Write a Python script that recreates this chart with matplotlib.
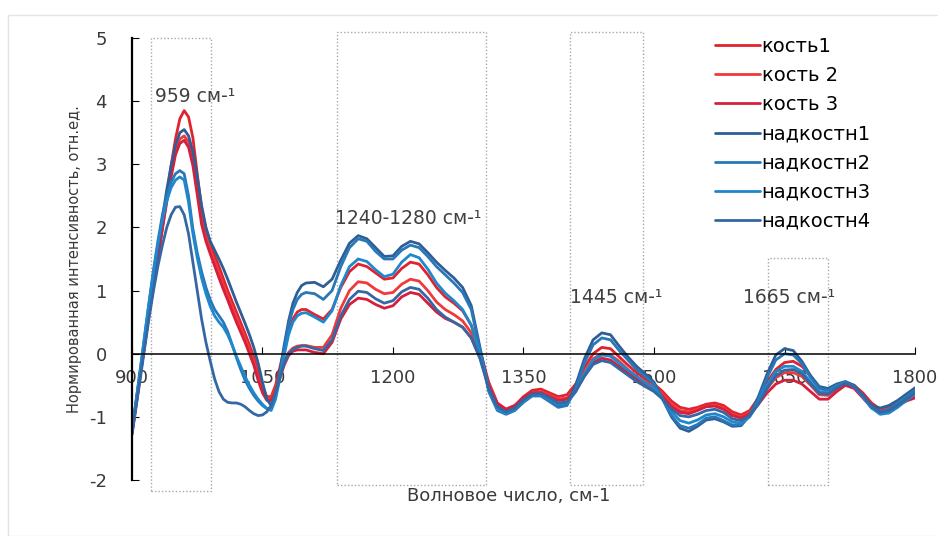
import matplotlib

matplotlib.use("Agg")
import matplotlib.pyplot as plt  # noqa: E402
from matplotlib.patches import Rectangle  # noqa: E402

plt.rcParams["font.family"] = ["DejaVu Sans"]
plt.rcParams["axes.unicode_minus"] = False

# wavenumber grid, cm-1: 5 cm-1 steps over the sharp 959 band, 10 cm-1 after
wavenumbers = list(range(900, 1100, 5)) + list(range(1100, 1801, 10))

# normalised intensities
kost1 = [-1.25, -0.78, -0.3, 0.18, 0.65, 1.08, 1.5, 2.0, 2.5, 2.98,
         3.4, 3.72, 3.85, 3.75, 3.42, 2.85, 2.3, 1.98, 1.75, 1.56,
         1.38, 1.19, 1.0, 0.83, 0.66, 0.49, 0.32, 0.14, -0.05, -0.3,
         -0.52, -0.68, -0.68, -0.5, -0.22, 0.08, 0.35, 0.55, 0.66, 0.7,
         0.7, 0.62, 0.55, 0.7, 1.05, 1.3, 1.42, 1.38, 1.28, 1.18,
         1.2, 1.35, 1.45, 1.42, 1.25, 1.05, 0.9, 0.8, 0.68, 0.45,
         0.05, -0.45, -0.78, -0.88, -0.82, -0.68, -0.58, -0.56, -0.62, -0.68,
         -0.65, -0.48, -0.22, 0.0, 0.1, 0.08, -0.05, -0.18, -0.3, -0.4,
         -0.48, -0.6, -0.75, -0.85, -0.88, -0.85, -0.8, -0.78, -0.82, -0.92,
         -0.97, -0.9, -0.7, -0.45, -0.25, -0.14, -0.12, -0.2, -0.35, -0.55,
         -0.58, -0.52, -0.47, -0.5, -0.62, -0.78, -0.88, -0.85, -0.78, -0.7,
         -0.62]
kost2 = [-1.25, -0.76, -0.28, 0.2, 0.68, 1.12, 1.55, 2.02, 2.45, 2.86,
         3.2, 3.4, 3.45, 3.35, 3.08, 2.62, 2.15, 1.87, 1.65, 1.46,
         1.28, 1.1, 0.92, 0.75, 0.58, 0.42, 0.25, 0.07, -0.12, -0.37,
         -0.58, -0.7, -0.7, -0.55, -0.33, -0.13, 0.02, 0.09, 0.12, 0.13,
         0.13, 0.1, 0.1, 0.3, 0.72, 1.0, 1.14, 1.12, 1.02, 0.95,
         0.97, 1.1, 1.18, 1.15, 1.0, 0.82, 0.7, 0.62, 0.52, 0.33,
         -0.02, -0.48, -0.8, -0.9, -0.85, -0.72, -0.62, -0.6, -0.66, -0.72,
         -0.7, -0.55, -0.3, -0.08, 0.0, -0.02, -0.12, -0.25, -0.36, -0.45,
         -0.52, -0.64, -0.8, -0.9, -0.92, -0.88, -0.83, -0.82, -0.86, -0.96,
         -1.0, -0.93, -0.76, -0.55, -0.38, -0.3, -0.3, -0.36, -0.5, -0.65,
         -0.66, -0.56, -0.48, -0.52, -0.66, -0.82, -0.9, -0.87, -0.8, -0.72,
         -0.66]
kost3 = [-1.28, -0.79, -0.3, 0.18, 0.66, 1.1, 1.55, 1.98, 2.4, 2.8,
         3.15, 3.33, 3.38, 3.27, 2.98, 2.52, 2.05, 1.78, 1.58, 1.39,
         1.2, 1.02, 0.85, 0.67, 0.5, 0.34, 0.18, 0.0, -0.18, -0.42,
         -0.62, -0.74, -0.74, -0.6, -0.38, -0.18, -0.03, 0.04, 0.06, 0.06,
         0.06, 0.02, 0.0, 0.18, 0.55, 0.78, 0.88, 0.86, 0.78, 0.72,
         0.76, 0.9, 0.97, 0.94, 0.8, 0.66, 0.56, 0.5, 0.42, 0.25,
         -0.06, -0.5, -0.8, -0.88, -0.82, -0.7, -0.62, -0.62, -0.68, -0.74,
         -0.72, -0.58, -0.35, -0.14, -0.07, -0.1, -0.2, -0.3, -0.4, -0.48,
         -0.56, -0.68, -0.84, -0.93, -0.95, -0.9, -0.84, -0.83, -0.88, -0.98,
         -1.02, -0.95, -0.8, -0.62, -0.48, -0.42, -0.42, -0.48, -0.6, -0.72,
         -0.72, -0.6, -0.5, -0.55, -0.7, -0.85, -0.92, -0.9, -0.82, -0.75,
         -0.7]
nadk1 = [-1.22, -0.73, -0.25, 0.25, 0.75, 1.22, 1.68, 2.15, 2.6, 2.98,
         3.3, 3.5, 3.55, 3.45, 3.2, 2.8, 2.35, 2.0, 1.78, 1.64,
         1.5, 1.35, 1.18, 1.0, 0.82, 0.65, 0.48, 0.3, 0.1, -0.15,
         -0.45, -0.72, -0.82, -0.65, -0.28, 0.14, 0.52, 0.8, 0.97, 1.08,
         1.12, 1.13, 1.06, 1.18, 1.48, 1.75, 1.87, 1.82, 1.68, 1.54,
         1.55, 1.7, 1.78, 1.74, 1.6, 1.45, 1.32, 1.2, 1.05, 0.76,
         0.1, -0.55, -0.88, -0.95, -0.88, -0.74, -0.64, -0.64, -0.74, -0.84,
         -0.8, -0.5, -0.08, 0.22, 0.33, 0.3, 0.12, -0.05, -0.2, -0.32,
         -0.45, -0.72, -1.0, -1.18, -1.23, -1.15, -1.05, -1.03, -1.08, -1.15,
         -1.14, -0.98, -0.68, -0.32, -0.02, 0.08, 0.05, -0.12, -0.35, -0.52,
         -0.55, -0.48, -0.44, -0.5, -0.66, -0.82, -0.86, -0.82, -0.74, -0.64,
         -0.54]
nadk2 = [-1.25, -0.72, -0.2, 0.33, 0.85, 1.35, 1.8, 2.2, 2.5, 2.72,
         2.85, 2.9, 2.85, 2.5, 1.98, 1.6, 1.3, 1.05, 0.85, 0.7,
         0.6, 0.5, 0.35, 0.15, -0.06, -0.25, -0.42, -0.55, -0.66, -0.75,
         -0.82, -0.87, -0.86, -0.68, -0.32, 0.08, 0.45, 0.7, 0.86, 0.94,
         0.97, 0.95, 0.86, 1.0, 1.38, 1.68, 1.82, 1.78, 1.62, 1.5,
         1.5, 1.64, 1.72, 1.68, 1.54, 1.38, 1.25, 1.12, 0.97, 0.7,
         0.05, -0.6, -0.9, -0.96, -0.9, -0.77, -0.67, -0.67, -0.76, -0.85,
         -0.82, -0.55, -0.15, 0.14, 0.25, 0.22, 0.05, -0.1, -0.25, -0.36,
         -0.48, -0.72, -0.98, -1.14, -1.18, -1.12, -1.02, -1.0, -1.06, -1.13,
         -1.12, -0.98, -0.72, -0.38, -0.1, 0.0, -0.02, -0.16, -0.38, -0.55,
         -0.58, -0.5, -0.45, -0.52, -0.68, -0.86, -0.92, -0.88, -0.78, -0.68,
         -0.58]
nadk3 = [-1.25, -0.72, -0.2, 0.33, 0.85, 1.32, 1.75, 2.12, 2.42, 2.63,
         2.75, 2.8, 2.75, 2.4, 1.9, 1.52, 1.2, 0.95, 0.75, 0.6,
         0.5, 0.42, 0.3, 0.14, -0.04, -0.2, -0.36, -0.5, -0.62, -0.72,
         -0.8, -0.87, -0.9, -0.72, -0.4, -0.02, 0.3, 0.5, 0.6, 0.64,
         0.65, 0.58, 0.5, 0.68, 1.08, 1.38, 1.5, 1.46, 1.33, 1.22,
         1.26, 1.45, 1.57, 1.52, 1.34, 1.12, 0.96, 0.84, 0.7, 0.45,
         0.0, -0.55, -0.88, -0.94, -0.88, -0.75, -0.65, -0.65, -0.72, -0.8,
         -0.78, -0.6, -0.32, -0.1, -0.02, -0.04, -0.15, -0.26, -0.36, -0.46,
         -0.55, -0.72, -0.92, -1.06, -1.1, -1.05, -0.97, -0.95, -1.0, -1.08,
         -1.1, -1.0, -0.78, -0.5, -0.28, -0.2, -0.2, -0.28, -0.45, -0.6,
         -0.62, -0.52, -0.46, -0.52, -0.68, -0.86, -0.96, -0.94, -0.85, -0.74,
         -0.64]
nadk4 = [-1.28, -0.82, -0.35, 0.13, 0.6, 1.02, 1.4, 1.72, 2.0, 2.2,
         2.32, 2.33, 2.2, 1.9, 1.45, 1.0, 0.55, 0.18, -0.12, -0.4,
         -0.6, -0.72, -0.77, -0.78, -0.78, -0.8, -0.84, -0.9, -0.95, -0.98,
         -0.97, -0.92, -0.82, -0.62, -0.38, -0.15, 0.0, 0.07, 0.1, 0.12,
         0.12, 0.08, 0.05, 0.22, 0.6, 0.86, 0.99, 0.97, 0.87, 0.8,
         0.84, 0.98, 1.05, 1.02, 0.88, 0.7, 0.58, 0.5, 0.42, 0.25,
         -0.08, -0.55, -0.84, -0.92, -0.86, -0.73, -0.64, -0.63, -0.7, -0.78,
         -0.76, -0.6, -0.36, -0.17, -0.11, -0.14, -0.24, -0.34, -0.44, -0.52,
         -0.6, -0.72, -0.88, -0.98, -1.0, -0.96, -0.9, -0.88, -0.93, -1.03,
         -1.06, -0.98, -0.8, -0.55, -0.35, -0.26, -0.25, -0.32, -0.48, -0.63,
         -0.64, -0.54, -0.47, -0.52, -0.66, -0.83, -0.93, -0.9, -0.82, -0.72,
         -0.62]

series = [
    ("кость1", kost1, "#e0232e"),
    ("кость 2", kost2, "#f03a3a"),
    ("кость 3", kost3, "#d61f3c"),
    ("надкостн1", nadk1, "#2f5e97"),
    ("надкостн2", nadk2, "#2878b8"),
    ("надкостн3", nadk3, "#1f88cc"),
    ("надкостн4", nadk4, "#3467a3"),
]

# highlighted bands: (left, right, bottom, top) in data units, and their labels
bands = [
    (922, 991, -2.18, 5.0),
    (1136, 1307, -2.08, 5.09),
    (1403, 1487, -2.08, 5.09),
    (1631, 1700, -2.08, 1.52),
]
band_labels = [
    (926, 4.07, "959 см-¹"),
    (1133, 2.14, "1240-1280 см-¹"),
    (1403, 0.89, "1445 см-¹"),
    (1602, 0.89, "1665 см-¹"),
]

fig = plt.figure(figsize=(9.38, 5.36), dpi=100)
fig.patches.append(Rectangle((8 / 938, 0), 1, 1 - 15 / 536, transform=fig.transFigure,
                             fill=False, edgecolor="#e4e4e4", linewidth=1))
ax = fig.add_axes([0.1407, 0.1045, 0.8348, 0.8246])

for name, vals, col in series:
    ax.plot(wavenumbers, vals, color=col, lw=2.0, label=name,
            solid_joinstyle="round", solid_capstyle="round")

for x0, x1, y0, y1 in bands:
    ax.add_patch(Rectangle((x0, y0), x1 - x0, y1 - y0, fill=False, edgecolor="#a8a8a8",
                           linestyle=(0, (1, 1.5)), linewidth=1, clip_on=False))
for x, y, txt in band_labels:
    ax.text(x, y, txt, fontsize=13.5, color="#404040", va="center", ha="left")

ax.set_xlim(900, 1800)
ax.set_ylim(-2, 5)
ax.set_xticks(range(900, 1801, 150))
ax.set_yticks(range(-2, 6))

ax.spines["top"].set_visible(False)
ax.spines["right"].set_visible(False)
ax.spines["bottom"].set_position(("data", 0))
ax.spines["left"].set_linewidth(1.6)
ax.spines["bottom"].set_linewidth(1.1)
ax.tick_params(axis="both", direction="in", length=5, labelsize=13, labelcolor="#3a3a3a")
ax.tick_params(axis="y", pad=18)
ax.tick_params(axis="x", pad=11)

ax.set_ylabel("Нормированная интенсивность, отн.ед.", fontsize=10.5, color="#3a3a3a", labelpad=5)
fig.text(509 / 938, 1 - 496 / 536, "Волновое число, см-1", fontsize=13, color="#3a3a3a",
         ha="center", va="center")

ax.legend(loc="upper left", bbox_to_anchor=(715 / 938, 1 - 37 / 536), bbox_transform=fig.transFigure,
          frameon=False, fontsize=14, handlelength=2.3, handletextpad=0.1, labelspacing=0.52,
          borderpad=0, borderaxespad=0)

fig.savefig("out.png", dpi=100)
